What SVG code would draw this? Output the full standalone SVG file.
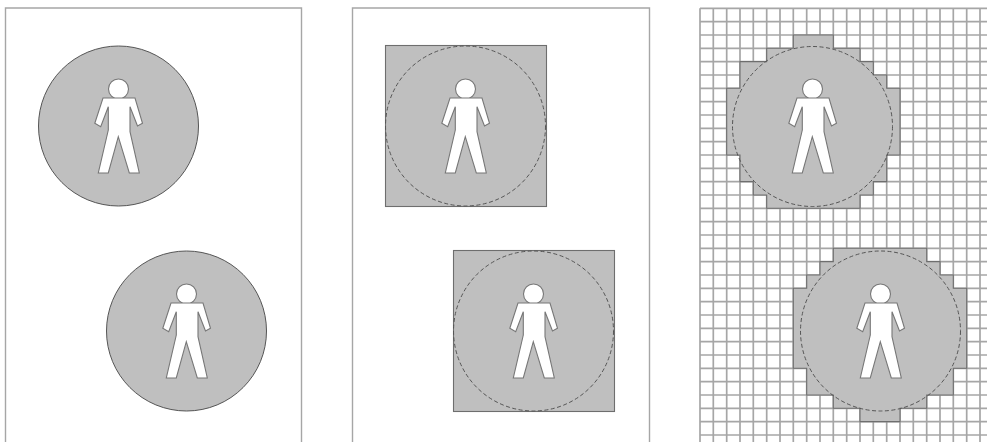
<svg xmlns="http://www.w3.org/2000/svg" width="987" height="442" viewBox="0 0 987 442">
<style>
.panel{fill:none;stroke:#a6a6a6;stroke-width:1.4}
.solid{fill:#bfbfbf;stroke:#555;stroke-width:1}
.fillonly{fill:#bfbfbf;stroke:#6e6e6e;stroke-width:1.1}
.dashclear{fill:none;stroke:#555;stroke-width:1;stroke-dasharray:4 2.5}
.person{fill:#fff;stroke:#777;stroke-width:1.1}
.grid{stroke:#a6a6a6;stroke-width:1.7;fill:none}
</style>
<defs>
<g id="man">
<circle class="person" cx="0" cy="-37" r="10"/>
<path class="person" d="M-15.5,-28H16.5L24,-2.7L19,0L11.5,-19.3V5.7L20.8,47H10.8L-.2,10.7L-10.2,47H-20.2L-10.2,4V-19.3L-17.8,.7L-23.7,-2.7Z"/>
</g>
</defs>
<rect width="987" height="442" fill="#fff"/>
<g id="panel-1">
<path class="panel" d="M5.5,442V8H301.5V442"/>
<g id="p1-a"><circle class="solid" cx="118.5" cy="126" r="80"/><use href="#man" x="118.5" y="126"/></g>
<g id="p1-b"><circle class="solid" cx="186.5" cy="331" r="80"/><use href="#man" x="186.5" y="331"/></g>
</g>
<g id="panel-2">
<path class="panel" d="M352.5,442V8H649.5V442"/>
<g id="p2-a"><rect class="fillonly" x="385.5" y="45.5" width="161" height="161"/><circle class="dashclear" cx="465.5" cy="126" r="80"/><use href="#man" x="465.5" y="126"/></g>
<g id="p2-b"><rect class="fillonly" x="453.5" y="250.5" width="161" height="161"/><circle class="dashclear" cx="533.5" cy="331" r="80"/><use href="#man" x="533.5" y="331"/></g>
</g>
<g id="panel-3">
<path class="grid" d="M700,8.3V442M713.3,8.3V442M726.7,8.3V442M740,8.3V442M753.3,8.3V442M766.7,8.3V442M780,8.3V442M793.3,8.3V442M806.7,8.3V442M820,8.3V442M833.3,8.3V442M846.7,8.3V442M860,8.3V442M873.3,8.3V442M886.7,8.3V442M900,8.3V442M913.3,8.3V442M926.7,8.3V442M940,8.3V442M953.3,8.3V442M966.7,8.3V442M980,8.3V442
M700,8.3H987M700,21.6H987M700,35H987M700,48.3H987M700,61.6H987M700,75H987M700,88.3H987M700,101.6H987M700,115H987M700,128.3H987M700,141.6H987M700,155H987M700,168.3H987M700,181.6H987M700,195H987M700,208.3H987M700,221.6H987M700,235H987M700,248.3H987M700,261.6H987M700,275H987M700,288.3H987M700,301.6H987M700,315H987M700,328.3H987M700,341.6H987M700,355H987M700,368.3H987M700,381.6H987M700,395H987M700,408.3H987M700,421.6H987M700,435H987"/>
<g id="p3-a">
<path class="fillonly" d="M793.3,35H833.3V48.3H860V61.6H873.3V75H886.7V88.3H900V155H886.7V181.6H873.3V195H860V208.3H766.7V195H753.3V181.6H740V155H726.7V88.3H740V61.6H766.7V48.3H793.3Z"/>
<circle class="dashclear" cx="812.5" cy="126.5" r="80"/><use href="#man" x="812.5" y="126"/>
</g>
<g id="p3-b">
<path class="fillonly" d="M833.3,248.3H926.7V261.6H940V275H953.3V288.3H966.7V368.3H953.3V395H926.7V408.3H900V421.6H860V408.3H833.3V395H806.7V368.3H793.3V288.3H806.7V275H820V261.6H833.3Z"/>
<circle class="dashclear" cx="880.5" cy="331" r="80"/><use href="#man" x="880.5" y="331"/>
</g>
</g>
</svg>
